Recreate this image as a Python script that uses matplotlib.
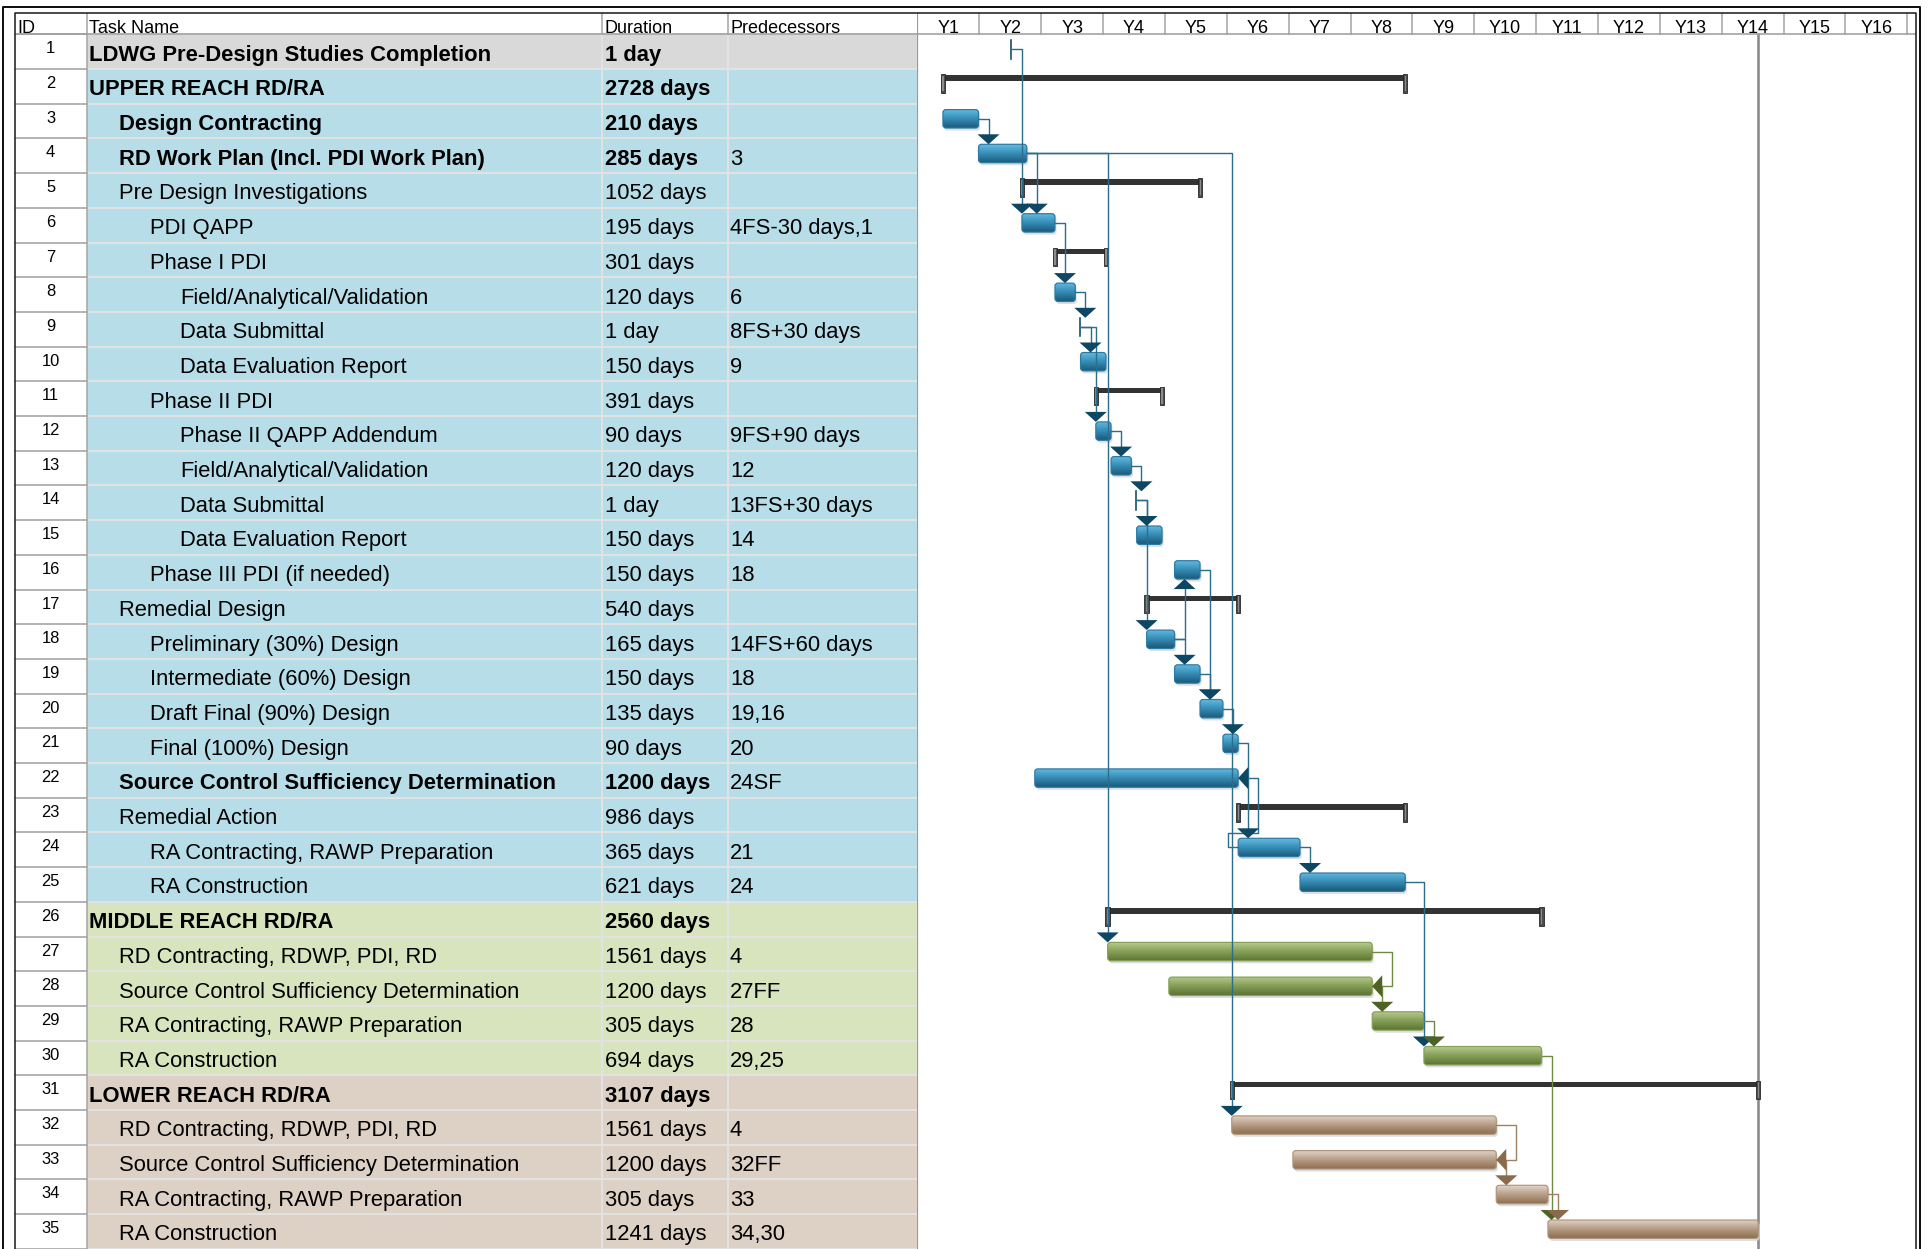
import matplotlib
matplotlib.use('Agg')
import matplotlib.pyplot as plt
import numpy as np
from matplotlib.patches import FancyBboxPatch, Rectangle, Polygon
from matplotlib.lines import Line2D
from matplotlib.colors import to_rgb

# ---------------- data ----------------
ids = list(range(1, 36))
names = [
    "LDWG Pre-Design Studies Completion", "UPPER REACH RD/RA", "Design Contracting",
    "RD Work Plan (Incl. PDI Work Plan)", "Pre Design Investigations", "PDI QAPP", "Phase I PDI",
    "Field/Analytical/Validation", "Data Submittal", "Data Evaluation Report", "Phase II PDI",
    "Phase II QAPP Addendum", "Field/Analytical/Validation", "Data Submittal",
    "Data Evaluation Report", "Phase III PDI (if needed)", "Remedial Design",
    "Preliminary (30%) Design", "Intermediate (60%) Design", "Draft Final (90%) Design",
    "Final (100%) Design", "Source Control Sufficiency Determination", "Remedial Action",
    "RA Contracting, RAWP Preparation", "RA Construction", "MIDDLE REACH RD/RA",
    "RD Contracting, RDWP, PDI, RD", "Source Control Sufficiency Determination",
    "RA Contracting, RAWP Preparation", "RA Construction", "LOWER REACH RD/RA",
    "RD Contracting, RDWP, PDI, RD", "Source Control Sufficiency Determination",
    "RA Contracting, RAWP Preparation", "RA Construction"]
levels = [0, 0, 1, 1, 1, 2, 2, 3, 3, 3, 2, 3, 3, 3, 3, 2, 1, 2, 2, 2, 2, 1, 1, 2, 2,
          0, 1, 1, 1, 1, 0, 1, 1, 1, 1]
duration_txt = ["1 day", "2728 days", "210 days", "285 days", "1052 days", "195 days", "301 days",
                "120 days", "1 day", "150 days", "391 days", "90 days", "120 days", "1 day",
                "150 days", "150 days", "540 days", "165 days", "150 days", "135 days", "90 days",
                "1200 days", "986 days", "365 days", "621 days", "2560 days", "1561 days",
                "1200 days", "305 days", "694 days", "3107 days", "1561 days", "1200 days",
                "305 days", "1241 days"]
pred_txt = ["", "", "", "3", "", "4FS-30 days,1", "", "6", "8FS+30 days", "9", "", "9FS+90 days",
            "12", "13FS+30 days", "14", "18", "", "14FS+60 days", "18", "19,16", "20", "24SF", "",
            "21", "24", "", "4", "27FF", "28", "29,25", "", "4", "32FF", "33", "34,30"]
bold_rows = [1, 2, 3, 4, 22, 26, 31]
groups = ["gray"] + ["upper"] * 24 + ["middle"] * 5 + ["lower"] * 5
kinds = ["day", "summary", "task", "task", "summary", "task", "summary", "task", "day", "task",
         "summary", "task", "task", "day", "task", "task", "summary", "task", "task", "task",
         "task", "task", "summary", "task", "task", "summary", "task", "task", "task", "task",
         "summary", "task", "task", "task", "task"]
# start (days from axis origin); durations in days
starts = [552, 150, 150, 360, 616, 616, 811, 811, 961, 962, 1052, 1052, 1142, 1292, 1293, 1517,
          1352, 1352, 1517, 1667, 1802, 692, 1892, 1892, 2257, 1122, 1122, 1483, 2683, 2988,
          1854, 1854, 2215, 3415, 3720]
durations = [1, 2728, 210, 285, 1052, 195, 301, 120, 1, 150, 391, 90, 120, 1, 150, 150, 540, 165,
             150, 135, 90, 1200, 986, 365, 621, 2560, 1561, 1200, 305, 694, 3107, 1561, 1200,
             305, 1241]
links = [(3, 4, "FS"), (1, 6, "FS"), (4, 6, "FS"), (6, 8, "FS"), (8, 9, "FS"), (9, 10, "FS"),
         (9, 12, "FS"), (12, 13, "FS"), (13, 14, "FS"), (14, 15, "FS"), (14, 18, "FS"),
         (18, 16, "FS"), (18, 19, "FS"), (19, 20, "FS"), (16, 20, "FS"), (20, 21, "FS"),
         (21, 24, "FS"), (24, 22, "SF"), (24, 25, "FS"), (4, 27, "FS"), (27, 28, "FF"),
         (28, 29, "FS"), (25, 30, "FS"), (29, 30, "FS"), (4, 32, "FS"), (32, 33, "FF"),
         (33, 34, "FS"), (30, 35, "FS"), (34, 35, "FS")]
year_labels = [f"Y{k}" for k in range(1, 17)]
project_finish = 4961
DAYS_PER_YEAR = 365

# ---------------- style ----------------
W, H, DPI = 1931, 1249, 100
FONT = ["Liberation Sans", "DejaVu Sans"]
plt.rcParams["font.family"] = FONT
ROW_BG = {"gray": "#d9d9d9", "upper": "#b7dee8", "middle": "#d7e4bd", "lower": "#ddd0c4"}
BAR = {"upper": ("#66bbe0", "#3a92bc", "#1a5a7a", "#2b7aa1"),
       "middle": ("#b9cc93", "#8aa35c", "#5b7432", "#86a055"),
       "lower": ("#e3d5ca", "#bba38d", "#8e6e50", "#b09479")}
LINK = {"gray": ("#2c6d8c", "#0e4763"), "upper": ("#2c6d8c", "#0e4763"),
        "middle": ("#6f8c45", "#4d6326"), "lower": ("#a08262", "#8a6a4c")}

TABLE_TOP, ROW0, RH = 13.0, 34.3, 34.7
LEFT_IN, CHART_X, RIGHT_IN = 14.7, 917.5, 1915.7
X_ID, X_TASK, X_DUR, X_PRED = 86.7, 88.7, 605.0, 730.0
SEP_DUR, SEP_PRED = 602.3, 727.7
YEAR_PX = 61.86
XMAX = (RIGHT_IN - CHART_X) / YEAR_PX * DAYS_PER_YEAR
DPX = XMAX / (RIGHT_IN - CHART_X)      # days per pixel
RPX = 1.0 / RH                          # rows per pixel
y_top_lim = -(ROW0 - TABLE_TOP) / RH
y_bot_lim = (H - ROW0) / RH


def pt(px):
    return px * 72.0 / DPI


fig = plt.figure(figsize=(W / DPI, H / DPI), dpi=DPI)
fig.patch.set_facecolor("white")
ax_t = fig.add_axes([LEFT_IN / W, 0, (CHART_X - LEFT_IN) / W, (H - TABLE_TOP) / H])
ax_g = fig.add_axes([CHART_X / W, 0, (RIGHT_IN - CHART_X) / W, (H - TABLE_TOP) / H])
for a in (ax_t, ax_g):
    a.set_axis_off()
ax_t.set_xlim(LEFT_IN, CHART_X)

# ---------------- table ----------------
n = len(ids)
for i in range(n):
    r0 = i
    ax_t.add_patch(Rectangle((X_ID, r0), CHART_X - X_ID, 1, facecolor=ROW_BG[groups[i]],
                             edgecolor="none", zorder=1))
# row separators
for i in range(n + 1):
    ax_t.add_line(Line2D([X_ID, CHART_X], [i, i], color="#e2e2e2", lw=pt(2.0), zorder=2))
    ax_t.add_line(Line2D([LEFT_IN, X_ID], [i, i], color="#b4b4b4", lw=pt(2.0), zorder=2))
for xs in (SEP_DUR, SEP_PRED):
    ax_t.add_line(Line2D([xs, xs], [0, y_bot_lim], color="#e2e2e2", lw=pt(2.0), zorder=2))
ax_t.add_line(Line2D([X_ID, X_ID], [y_top_lim, y_bot_lim], color="#a8a8a8", lw=pt(1.6), zorder=3))
for xs in (SEP_DUR, SEP_PRED):
    ax_t.add_line(Line2D([xs, xs], [y_top_lim, 0], color="#a8a8a8", lw=pt(1.6), zorder=3))
ax_t.add_line(Line2D([LEFT_IN, CHART_X], [0, 0], color="#a0a0a0", lw=pt(1.6), zorder=3))

hdr_base = (32.5 - ROW0) / RH
hdr_fs = pt(18.0)
ax_t.text(17.3, hdr_base, "ID", fontsize=hdr_fs, va="baseline", ha="left", zorder=5)
ax_t.text(X_TASK, hdr_base, "Task Name", fontsize=hdr_fs, va="baseline", ha="left", zorder=5)
ax_t.text(X_DUR, hdr_base, "Duration", fontsize=hdr_fs, va="baseline", ha="left", zorder=5)
ax_t.text(X_PRED, hdr_base, "Predecessors", fontsize=hdr_fs, va="baseline", ha="left", zorder=5)

txt_fs = pt(22.0)
id_fs = pt(16.5)
for i in range(n):
    rid = ids[i]
    wt = "bold" if rid in bold_rows else "normal"
    base = i + 0.76
    ax_t.text((LEFT_IN + X_ID) / 2, i + 19.0 / RH, str(rid), fontsize=id_fs, ha="center",
              va="baseline", zorder=5)
    ax_t.text(X_TASK + 30.5 * levels[i], base, names[i], fontsize=txt_fs, fontweight=wt,
              ha="left", va="baseline", zorder=5)
    ax_t.text(X_DUR, base, duration_txt[i], fontsize=txt_fs, fontweight=wt, ha="left",
              va="baseline", zorder=5)
    if pred_txt[i]:
        ax_t.text(X_PRED, base, pred_txt[i], fontsize=txt_fs, fontweight="normal", ha="left",
                  va="baseline", zorder=5)

# ---------------- gantt header ----------------
for k in range(1, len(year_labels) + 1):
    xd = k * DAYS_PER_YEAR
    ax_g.add_line(Line2D([xd, xd], [y_top_lim, 0], color="#a8a8a8", lw=pt(1.6), zorder=3))
    ax_g.text((k - 0.5) * DAYS_PER_YEAR, hdr_base, year_labels[k - 1], fontsize=hdr_fs,
              ha="center", va="baseline", zorder=5)
ax_g.add_line(Line2D([0, XMAX], [0, 0], color="#a0a0a0", lw=pt(1.6), zorder=3))
ax_g.add_line(Line2D([0, 0], [y_top_lim, y_bot_lim], color="#9a9a9a", lw=pt(2.2), zorder=3))
ax_g.add_line(Line2D([project_finish, project_finish], [0, y_bot_lim], color="#8a8a8a",
                     lw=pt(2.6), zorder=2))

# ---------------- bars ----------------
BT, BB = 0.17, 0.70          # bar top / bottom fraction of row
YC = (BT + BB) / 2


def grad(c1, c2, c3, m=48):
    t = np.linspace(0, 1, m)[:, None]
    a, b, c = (np.array(to_rgb(x)) for x in (c1, c2, c3))
    arr = np.where(t < 0.45, a + (b - a) * (t / 0.45), b + (c - b) * ((t - 0.45) / 0.55))
    return arr[:, None, :]


MA = RPX / DPX
for i in range(n):
    s, d, g, kd = starts[i], durations[i], groups[i], kinds[i]
    if kd == "summary":
        ax_g.add_patch(Rectangle((s, i + 0.18), d, 0.165, facecolor="#333333", edgecolor="none",
                                 zorder=4))
        for xc in (s, s + d):
            ax_g.add_patch(Rectangle((xc - 2.2 * DPX, i + 0.15), 4.4 * DPX, 0.54,
                                     facecolor="#4d4d4d", edgecolor="#222222", lw=pt(0.8),
                                     zorder=5))
            ax_g.add_patch(Rectangle((xc - 0.6 * DPX, i + 0.2), 1.2 * DPX, 0.44,
                                     facecolor="#8c8c8c", edgecolor="none", zorder=5))
    elif kd == "day":
        col = LINK[g][1]
        ax_g.add_line(Line2D([s, s], [i + BT, i + BB], color=col, lw=pt(1.6), zorder=5))
    else:
        c1, c2, c3, ec = BAR[g]
        y0, hh = i + BT, BB - BT
        ax_g.add_patch(FancyBboxPatch((s + 1.5 * DPX, y0 + 2.5 * RPX), d, hh,
                                      boxstyle=f"round,pad=0,rounding_size={3 * DPX}",
                                      mutation_aspect=MA, facecolor="#cfd6da",
                                      edgecolor="none", alpha=0.8, zorder=3))
        patch = FancyBboxPatch((s, y0), d, hh, boxstyle=f"round,pad=0,rounding_size={3 * DPX}",
                               mutation_aspect=MA, facecolor="none", edgecolor=ec,
                               lw=pt(1.2), zorder=4.5)
        ax_g.add_patch(patch)
        im = ax_g.imshow(grad(c1, c2, c3), extent=(s, s + d, y0 + hh, y0), aspect="auto",
                         interpolation="bilinear", zorder=4)
        im.set_clip_path(patch)

# ---------------- links ----------------
AH = 10.0      # arrow length px
AW = 11.0      # arrow half width px


def end_of(k):
    return starts[k - 1] + durations[k - 1]


for (p, s_, typ) in links:
    lc, ac = LINK[groups[p - 1]]
    rp, rs = p - 1, s_ - 1
    ycp, ycs = rp + YC, rs + YC
    if typ == "FS":
        x0 = end_of(p)
        xa = max(x0 + 10 * DPX, starts[rs])
        if rs > rp:
            tip = rs + BT
            base = tip - AH * RPX
        else:
            tip = rs + BB
            base = tip + AH * RPX
        ax_g.add_line(Line2D([x0, xa, xa], [ycp, ycp, base], color=lc, lw=pt(1.4), zorder=6))
        ax_g.add_patch(Polygon([[xa - AW * DPX, base], [xa + AW * DPX, base], [xa, tip]],
                               closed=True, facecolor=ac, edgecolor="none", zorder=7))
    elif typ == "FF":
        x0, xt = end_of(p), end_of(s_)
        xj = x0 + 20 * DPX
        xb = xt + AH * DPX
        ax_g.add_line(Line2D([x0, xj, xj, xb], [ycp, ycp, ycs, ycs], color=lc, lw=pt(1.4),
                             zorder=6))
        ax_g.add_patch(Polygon([[xb, ycs - AW * RPX], [xb, ycs + AW * RPX], [xt, ycs]],
                               closed=True, facecolor=ac, edgecolor="none", zorder=7))
    elif typ == "SF":
        x0, xt = starts[rp], end_of(s_)
        xl = x0 - 10 * DPX
        yj = rp + 1 * RPX
        xj = xt + 20 * DPX
        xb = xt + AH * DPX
        ax_g.add_line(Line2D([x0, xl, xl, xj, xj, xb], [ycp, ycp, yj, yj, ycs, ycs], color=lc,
                             lw=pt(1.4), zorder=6))
        ax_g.add_patch(Polygon([[xb, ycs - AW * RPX], [xb, ycs + AW * RPX], [xt, ycs]],
                               closed=True, facecolor=ac, edgecolor="none", zorder=7))

for a in (ax_t, ax_g):
    a.set_ylim(y_bot_lim, y_top_lim)
ax_g.set_xlim(0, XMAX)
ax_t.set_xlim(LEFT_IN, CHART_X)

# ---------------- frames ----------------
def fx(px):
    return px / W


def fy(py):
    return 1 - py / H


for (l, t, r, col, lw) in [(3.3, 6.7, 1920.5, "#111111", 2.0), (LEFT_IN, TABLE_TOP, RIGHT_IN, "#222222", 1.6)]:
    fig.add_artist(Line2D([fx(l), fx(l), fx(r), fx(r)], [fy(H + 5), fy(t), fy(t), fy(H + 5)],
                          transform=fig.transFigure, color=col, lw=pt(lw)))

fig.savefig("out.png", dpi=DPI, facecolor="white")
